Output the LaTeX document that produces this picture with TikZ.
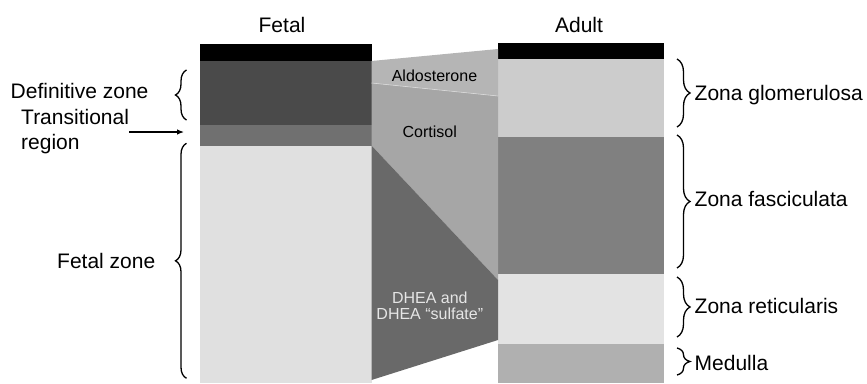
\documentclass[tikz,border=0pt]{standalone}
\usepackage{fontspec}
\setmainfont{Liberation Sans}
\usetikzlibrary{decorations.pathreplacing,arrows.meta}

\definecolor{defzone}{gray}{0.29}
\definecolor{transzone}{gray}{0.44}
\definecolor{fetalzone}{gray}{0.88}
\definecolor{glomzone}{gray}{0.80}
\definecolor{fasczone}{gray}{0.50}
\definecolor{retzone}{gray}{0.89}
\definecolor{medzone}{gray}{0.69}
\definecolor{aldoband}{gray}{0.71}
\definecolor{cortband}{gray}{0.65}
\definecolor{dheaband}{gray}{0.41}

\tikzset{
  bigtext/.style={font=\fontsize{21}{25}\selectfont, inner sep=0pt},
  smalltext/.style={font=\fontsize{16}{16}\selectfont, inner sep=0pt, align=center},
  rightbrace/.style={decorate, decoration={brace, amplitude=13pt}, line width=1.3pt},
  leftbrace/.style={decorate, decoration={brace, amplitude=11pt}, line width=1.3pt},
}

\begin{document}
\begin{tikzpicture}[x=1pt,y=-1pt]
\useasboundingbox (0,0) rectangle (867,383);

%% fetal gland
\fill[black] (200,44) rectangle (371.5,61);
\fill[defzone] (200,61) rectangle (371.5,125);
\fill[transzone] (200,125) rectangle (371.5,145.5);
\fill[fetalzone] (200,145.5) rectangle (371.5,383);

%% adult gland
\fill[black] (498,43) rectangle (664,59);
\fill[glomzone] (498,59) rectangle (664,137);
\fill[fasczone] (498,137) rectangle (664,274);
\fill[retzone] (498,274) rectangle (664,344);
\fill[medzone] (498,344) rectangle (664,383);

%% hormone bands in between
\fill[aldoband] (371.5,61) -- (498,49) -- (498,96) -- (371.5,83) -- cycle;
\fill[cortband] (371.5,83) -- (498,96) -- (498,280) -- (371.5,145.5) -- cycle;
\fill[dheaband] (371.5,145.5) -- (498,280) -- (498,340) -- (371.5,380) -- cycle;
\draw[gray!30, line width=0.6pt] (371.5,83) -- (498,96);

\node[smalltext, anchor=base] (aldo) at (434.5,81.7) {Aldosterone};
\node[smalltext, anchor=base] (cort) at (429.7,137.7) {Cortisol};
\node[smalltext, anchor=base, text=white!90!black] (dhea) at (429.8,303.3) {DHEA and};
\node[smalltext, anchor=base, text=white!90!black] (dheas) at (429.8,319) {DHEA ``sulfate''};

%% titles
\node[bigtext, anchor=base] (fetal) at (282,32.3) {Fetal};
\node[bigtext, anchor=base] (adult) at (579,32) {Adult};

%% fetal labels
\node[bigtext, anchor=base west] (defz) at (10.5,98.3) {Definitive zone};
\node[bigtext, anchor=west, align=left] (trans) at (21,132) {Transitional\\region};
\node[bigtext, anchor=base west] (fetz) at (57,268.3) {Fetal zone};
\coordinate (transtip) at (184,132);
\draw[line width=1.2pt, -{Latex[length=7pt,width=5.5pt]}] (trans.east) -- (transtip);
\draw[leftbrace] (186.5,120) -- (186.5,70);
\draw[leftbrace] (186.5,378.3) -- (186.5,143.3);

%% adult labels
\node[bigtext, anchor=base west] (glom) at (694.5,100) {Zona glomerulosa};
\node[bigtext, anchor=base west] (fasc) at (694.5,206.7) {Zona fasciculata};
\node[bigtext, anchor=base west] (ret) at (694.5,313.3) {Zona reticularis};
\node[bigtext, anchor=base west] (med) at (694.5,370) {Medulla};
\draw[rightbrace] (677,59) -- (677,127);
\draw[rightbrace] (677,135) -- (677,268);
\draw[rightbrace] (677,277) -- (677,337);
\draw[rightbrace] (677,348) -- (677,375);
\end{tikzpicture}
\end{document}
